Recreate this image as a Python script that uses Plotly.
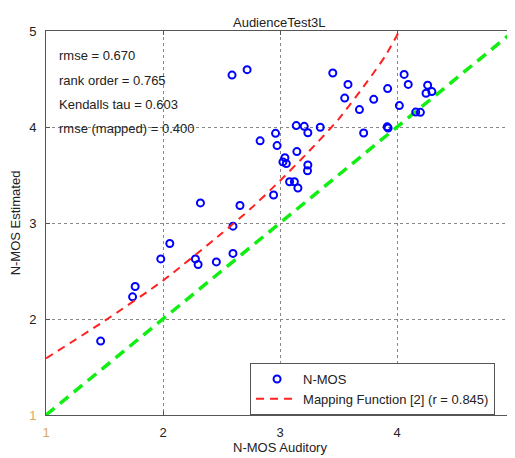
import plotly.graph_objects as go

# Scatter data (N-MOS auditory vs estimated)
auditory = [1.467, 1.740, 1.762, 1.981, 2.058, 2.277, 2.300, 2.456, 2.598, 2.598,
            2.320, 2.658, 2.945, 2.590, 2.719, 2.830, 2.962, 2.975, 3.139, 3.207,
            3.238, 3.344, 3.144, 3.042, 3.025, 3.054, 3.238, 3.235, 3.082, 3.123,
            3.153, 3.451, 3.581, 3.553, 3.679, 3.801, 3.920, 4.061, 4.096, 4.020,
            4.262, 4.248, 4.298, 4.160, 4.200, 3.916, 3.924, 3.715]
estimated = [1.770, 2.231, 2.339, 2.626, 2.787, 2.626, 2.568, 2.595, 2.683, 2.967,
             3.209, 3.182, 3.292, 4.541, 4.597, 3.856, 3.934, 3.806, 4.015, 4.007,
             3.940, 3.997, 3.744, 3.680, 3.636, 3.619, 3.604, 3.544, 3.430, 3.430,
             3.365, 4.562, 4.444, 4.301, 4.181, 4.288, 4.400, 4.548, 4.444, 4.223,
             4.436, 4.351, 4.369, 4.155, 4.153, 4.002, 3.990, 3.937]

# Mapping function curve
map_x = [1.0, 1.5, 2.0, 2.5, 2.75, 3.0, 3.25, 3.5, 3.75, 3.9, 4.02]
map_y = [1.59, 1.98, 2.40, 2.89, 3.15, 3.44, 3.75, 4.08, 4.48, 4.74, 5.0]

# Identity line
ident_x = [1, 5]
ident_y = [1, 5]

tick_vals = [1, 2, 3, 4, 5]
tick_text = ["<span style='color:#d8a860'>1</span>", "2", "3", "4", "5"]

stats_lines = ["rmse = 0.670", "rank order = 0.765", "Kendalls tau = 0.603", "rmse (mapped) = 0.400"]

FONT = "Arial, 'Liberation Sans', sans-serif"
FS = 13

fig = go.Figure()
fig.add_trace(go.Scatter(
    x=ident_x, y=ident_y, mode="lines", showlegend=False,
    line=dict(color="#11ee11", width=3.5, dash="11px,7px")))
fig.add_trace(go.Scatter(
    x=auditory, y=estimated, mode="markers", name="N-MOS",
    marker=dict(symbol="circle-open", size=7, color="#0000ff", line=dict(width=2, color="#0000ff"))))
fig.add_trace(go.Scatter(
    x=map_x, y=map_y, mode="lines", name="Mapping Function [2] (r = 0.845)",
    line=dict(color="#ff2020", width=2, dash="8px,6px", shape="spline", smoothing=0.6)))

for i, t in enumerate(stats_lines):
    fig.add_annotation(xref="paper", yref="paper", x=0.024, y=0.935 - i * 0.063,
                       text=t, showarrow=False, xanchor="left", yanchor="middle",
                       font=dict(size=FS, color="#222222", family=FONT))

axis_common = dict(
    range=[1, 5], tickvals=tick_vals, ticktext=tick_text,
    showgrid=True, gridcolor="#888888", griddash="dot", gridwidth=1,
    showline=True, linecolor="#555555", linewidth=1, mirror="ticks",
    ticks="inside", ticklen=4, tickcolor="#555555", automargin=False,
    zeroline=False, tickfont=dict(size=FS, color="#222222", family=FONT),
)

# The page body adds an 8px offset, so the figure is sized to fit the window.
fig.update_layout(
    width=507, height=450,
    margin=dict(l=38, r=1, t=23, b=43),
    paper_bgcolor="white", plot_bgcolor="white",
    title=dict(text="AudienceTest3L", x=0.535, xanchor="center", y=0.969, yanchor="middle",
               font=dict(size=FS, color="#222222", family=FONT)),
    xaxis=dict(axis_common, title=dict(text="N-MOS Auditory", standoff=4,
                                       font=dict(size=FS, color="#222222", family=FONT)),
               ticklabelstandoff=5),
    yaxis=dict(axis_common, title=dict(text="N-MOS Estimated", standoff=8,
                                       font=dict(size=FS, color="#222222", family=FONT)),
               ticklabelstandoff=6),
    legend=dict(x=0.436, y=0.0, xanchor="left", yanchor="bottom",
                bgcolor="white", bordercolor="#555555", borderwidth=1,
                font=dict(size=FS, color="#222222", family=FONT),
                tracegroupgap=0, itemwidth=42),
    showlegend=True,
)

fig.write_html("out.html")
